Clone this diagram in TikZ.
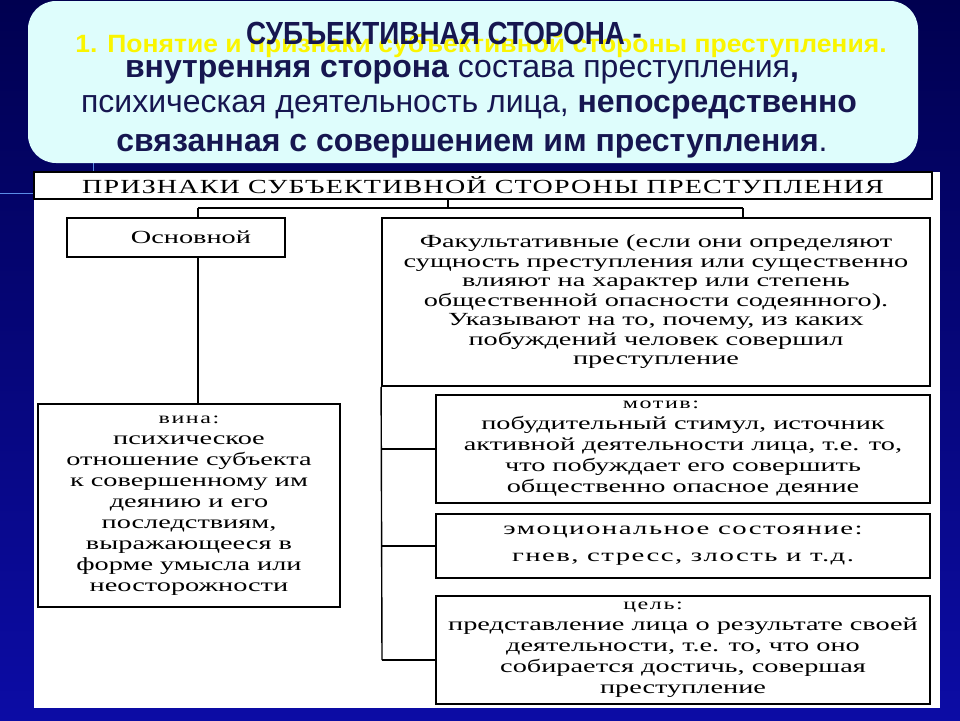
\documentclass[tikz,border=0pt]{standalone}
\usepackage{fontspec}
\setmainfont{Liberation Serif}
\newfontfamily\titlesans{Liberation Sans}
\newfontfamily\titlebold[FakeStretch=0.87]{Liberation Sans Bold}
\newfontfamily\yelsans[FakeStretch=1.06]{Liberation Sans Bold}
\newfontfamily\dserif[FakeStretch=1.53]{Liberation Serif}
\newfontfamily\emoserif[FakeStretch=1.6,LetterSpace=8]{Liberation Serif}
\newfontfamily\lblserif[FakeStretch=1.5,LetterSpace=10]{Liberation Serif}
\newfontfamily\hserif[FakeStretch=1.4,LetterSpace=6]{Liberation Serif}
\definecolor{bgtop}{RGB}{0,0,80}
\definecolor{bgbot}{RGB}{12,12,165}
\definecolor{topfill}{RGB}{222,253,252}
\definecolor{titleink}{RGB}{22,22,80}
\definecolor{yel}{RGB}{250,245,0}
\definecolor{deco}{RGB}{90,140,230}
\tikzset{
  box/.style={draw=black, line width=1.8pt, fill=white, inner sep=0pt, align=center,
    font=\fontsize{18.5}{20.5}\selectfont\dserif},
  conn/.style={draw=black, line width=1.4pt},
  ttl/.style={inner sep=0pt, text=titleink, font=\fontsize{32}{36}\selectfont\titlesans}
}
\newcommand{\lbl}[1]{{\fontsize{16}{20.5}\selectfont\lblserif #1}}
\begin{document}
\begin{tikzpicture}[x=1pt,y=-1pt]
\useasboundingbox (0,0) rectangle (960,720);
\shade[top color=bgtop, bottom color=bgbot] (0,0) rectangle (960,720);
% decorative template lines
\draw[deco, line width=1pt] (0,193) -- (34,193);
\draw[deco, line width=1pt] (93,163) -- (93,172);
% top rounded box
\fill[topfill, rounded corners=28pt] (28,1) rectangle (918,163);
\node[inner sep=0pt, text=yel, font=\fontsize{25}{27}\selectfont\yelsans] (sub) at (481,46)
  {1. Понятие и признаки субъективной стороны преступления.};
\node[ttl, font=\fontsize{32}{36}\selectfont\titlebold] (t1) at (444,33) {СУБЪЕКТИВНАЯ СТОРОНА -};
\node[ttl] (t2) at (462,72) {{\bfseries внутренняя сторона} состава преступления{\bfseries ,}};
\node[ttl] (t3) at (469,107) {психическая деятельность лица, {\bfseries непосредственно}};
\node[ttl] (t4) at (472,146) {{\bfseries связанная с совершением им преступления}.};
% white panel
\fill[white] (34,172) rectangle (940,708);
% boxes
\node[box, minimum width=898pt, minimum height=27pt, font=\fontsize{20}{20}\selectfont\hserif] (head) at (483,185.5)
  {ПРИЗНАКИ СУБЪЕКТИВНОЙ СТОРОНЫ ПРЕСТУПЛЕНИЯ};
\node[box, minimum width=218pt, minimum height=39pt] (osn) at (176,237.5) {\hspace*{30pt}Основной};
\node[box, minimum width=548pt, minimum height=168pt, font=\fontsize{18.5}{19.5}\selectfont\dserif] (fak) at (656,302)
  {Факультативные (если они определяют\\сущность преступления или существенно\\влияют на характер или степень\\общественной опасности содеянного).\\Указывают на то, почему, из каких\\побуждений человек совершил\\преступление};
\node[box, minimum width=302pt, minimum height=203pt, font=\fontsize{18.5}{21}\selectfont\dserif] (vina) at (189,505.5)
  {\lbl{вина:}\\психическое\\отношение субъекта\\к совершенному им\\деянию и его\\последствиям,\\выражающееся в\\форме умысла или\\неосторожности};
\node[box, minimum width=494pt, minimum height=108pt, font=\fontsize{18.5}{21}\selectfont\dserif] (motiv) at (683,449)
  {\lbl{мотив:}\hspace*{44pt}\\побудительный стимул, источник\\активной деятельности лица, т.е. то,\\что побуждает его совершить\\общественно опасное деяние};
\node[box, minimum width=494pt, minimum height=64pt, font=\fontsize{18}{27}\selectfont\emoserif] (emo) at (683,546)
  {эмоциональное состояние:\\гнев, стресс, злость и т.д.};
\node[box, minimum width=494pt, minimum height=108pt, font=\fontsize{18.5}{21}\selectfont\dserif] (cel) at (683,650)
  {\lbl{цель:}\hspace*{60pt}\\представление лица о результате своей\\деятельности, т.е. то, что оно\\собирается достичь, совершая\\преступление};
% connectors
\coordinate (jc) at (448,208);
\coordinate (jl) at (198,208);
\coordinate (jr) at (743,208);
\coordinate (cb) at (382,660);
\draw[conn] (head.south -| jc) -- (jc);
\draw[conn] (jl) -- (jr);
\draw[conn] (jl) -- (osn.north -| jl);
\draw[conn] (jr) -- (fak.north -| jr);
\draw[conn] (osn.south -| jl) -- (vina.north -| jl);
\draw[conn] (fak.south west) -- (cb);
\draw[conn] (motiv.west -| fak.west) -- (motiv.west);
\draw[conn] (emo.west -| fak.west) -- (emo.west);
\draw[conn] (cb) -- (cb -| cel.west);
\end{tikzpicture}
\end{document}
